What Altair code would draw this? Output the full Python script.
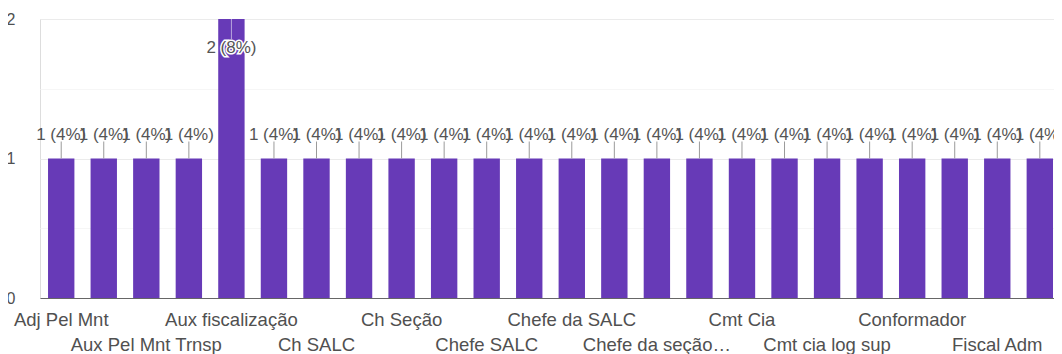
import json
import altair as alt
import pandas as pd

categories = [
    "Adj Pel Mnt", "Almoxarife", "Aux Pel Mnt Trnsp", "Aux SALC",
    "Aux fiscalização", "Ch Almox", "Ch SALC", "Ch Sec Aquisições",
    "Ch Seção", "Chefe Almox", "Chefe SALC", "Chefe Seção",
    "Chefe da SALC", "Chefe da Seção Adm", "Chefe da seção de aquisições", "Cmt Btl",
    "Cmt Cia", "Cmt Pel", "Cmt cia log sup", "Conferente",
    "Conformador", "Enc Mat", "Fiscal Adm", "Fiscal de contrato",
]
counts = [1, 1, 1, 1, 2, 1, 1, 1, 1, 1, 1, 1, 1, 1, 1, 1, 1, 1, 1, 1, 1, 1, 1, 1]
y_grid = [0, 0.5, 1, 1.5, 2]

total = sum(counts)
maxn = max(counts)
df = pd.DataFrame({"cargo": categories, "n": counts})
df["rot"] = [f"{c} ({round(100 * c / total)}%)" for c in counts]

FONT = "Liberation Sans"
PURPLE = "#673AB7"

arr = json.dumps(categories, ensure_ascii=False)
lab = "(length(datum.label) > 17 ? truncate(datum.label, 15) : datum.label)"
label_expr = (
    f"indexof({arr}, datum.value) % 4 == 0 ? {lab} : "
    f"(indexof({arr}, datum.value) % 4 == 2 ? ['', {lab}] : '')"
)

xs = alt.X("cargo:N", sort=categories)
x = alt.X(
    "cargo:N",
    sort=categories,
    scale=alt.Scale(paddingInner=0.38, paddingOuter=0.106, align=0.89),
    axis=alt.Axis(
        title=None, labelAngle=0, labelExpr=label_expr, labelFont=FONT,
        labelFontSize=18.5, labelColor="#505050", labelBaseline="top",
        labelPadding=12, labelLineHeight=25, ticks=False, domainColor="#666",
        labelOverlap=False, labelLimit=400, grid=False,
    ),
)
y = alt.Y(
    "n:Q",
    scale=alt.Scale(domain=[0, 2], nice=False),
    axis=alt.Axis(
        title=None, values=y_grid, domain=False, ticks=False,
        labelExpr="datum.value % 1 == 0 ? format(datum.value, 'd') : ''",
        labelOverlap=False, labelPadding=25,
        gridColor={"condition": {"test": "datum.value % 1 != 0", "value": "#f6f6f6"},
                   "value": "#ebebeb"},
        labelFont=FONT, labelFontSize=16, labelColor="#505050",
    ),
)

base = alt.Chart(df)
bars = base.mark_bar(color=PURPLE).encode(x=x, y=y)

small = base.transform_filter(f"datum.n < {maxn}")
big = base.transform_filter(f"datum.n == {maxn}")

lead_small = small.mark_rule(color="#9a9a9a", strokeWidth=1, y2Offset=-17).encode(
    x=xs, y="n:Q", y2="n:Q"
)
lead_big = big.mark_rule(color="#b9a6dd", strokeWidth=1, y2Offset=20).encode(
    x=xs, y="n:Q", y2="n:Q"
)
txt_small = small.mark_text(
    font=FONT, fontSize=17, color="#555", dy=-24, baseline="middle"
).encode(x=xs, y="n:Q", text="rot:N")
halo_big = big.mark_text(
    font=FONT, fontSize=17, color="white", stroke="white", strokeWidth=3,
    dy=29, baseline="middle",
).encode(x=xs, y="n:Q", text="rot:N")
txt_big = big.mark_text(
    font=FONT, fontSize=17, color="#555", dy=29, baseline="middle"
).encode(x=xs, y="n:Q", text="rot:N")

chart = (
    alt.layer(bars, lead_small, lead_big, txt_small, halo_big, txt_big)
    .properties(
        width=1014, height=279,
        autosize=alt.AutoSizeParams(type="none"),
        padding={"left": 32, "top": 11, "right": 0, "bottom": 60},
    )
    .configure_view(stroke=None)
    .configure(background="white")
)

chart.save("out.html", embed_options={"renderer": "svg", "actions": False})
